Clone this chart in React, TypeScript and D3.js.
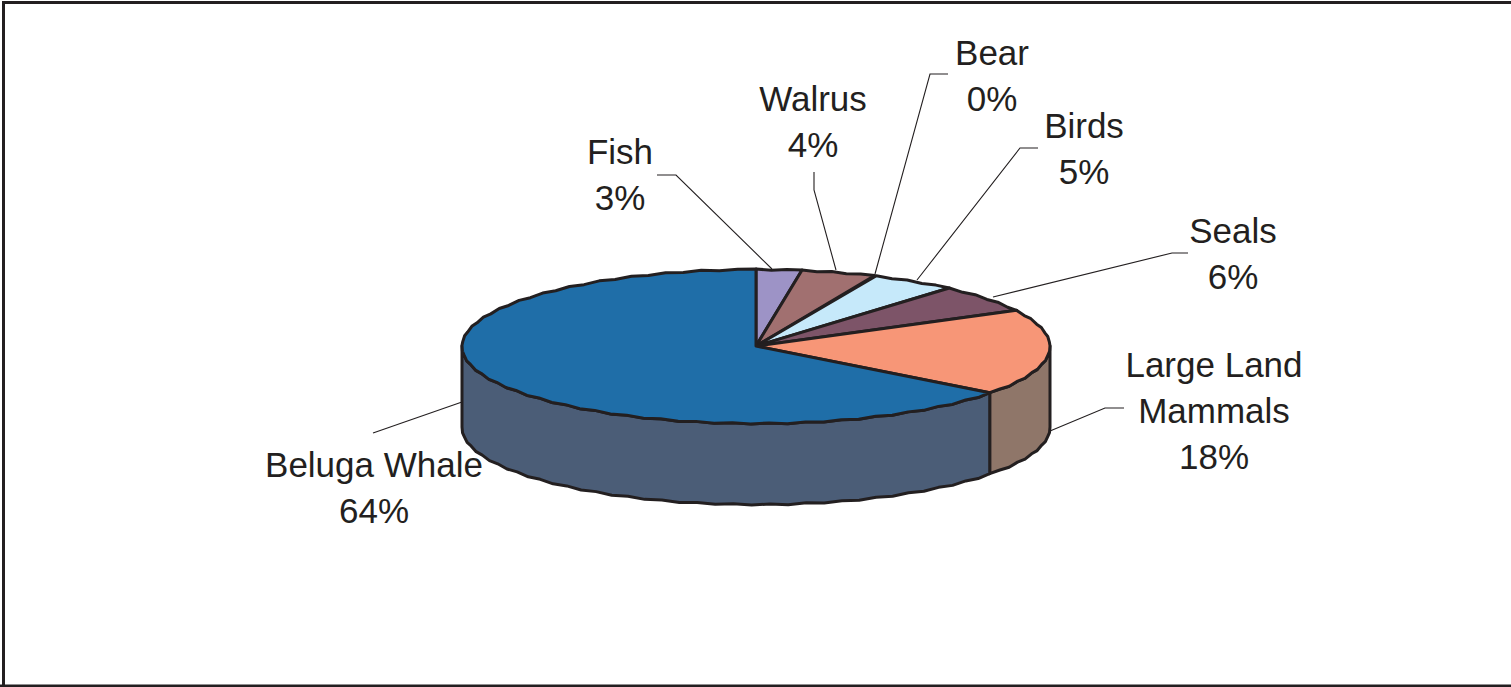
import React from "react";
import * as d3 from "d3";

// Data (true angles give the printed rounded percentages)
const categories = ["Fish", "Walrus", "Bear", "Birds", "Seals", "Large Land Mammals", "Beluga Whale"];
const values = [2.5, 4.1, 0.1, 4.7, 5.9, 18.0, 64.49];
const percentLabels = ["3%", "4%", "0%", "5%", "6%", "18%", "64%"];
const labelLines = [["Fish"], ["Walrus"], ["Bear"], ["Birds"], ["Seals"], ["Large Land", "Mammals"], ["Beluga Whale"]];

// Styling
const topColors = ["#9d93c6", "#a17070", "#a8a8c8", "#c6e9fa", "#7d5468", "#f79677", "#1f6ea8"];
const sideColors = ["#6f6a8c", "#755252", "#77778f", "#8fa8b5", "#5a3d4b", "#8f7669", "#4b5d77"];
const INK = "#231f20";

// Layout
const W = 1511, H = 687;
const CX = 756, CY = 346, RX = 294, RY = 77, DEPTH = 81;
const STEP = (3.6 * Math.PI) / 180;
const labelX = [620, 813, 992, 1084, 1233, 1214, 374];
const labelY = [164, 111, 65, 138, 243, 377, 477];
const LINE_H = 46;
const leaders = [
  [[772, 269], [676, 175], [657, 175]],
  [[836, 270], [814, 190], [814, 172]],
  [[875, 274], [930, 74], [948, 74]],
  [[917, 280], [1020, 148], [1038, 148]],
  [[993, 297], [1172, 253], [1188, 253]],
  [[1050, 431], [1105, 408], [1124, 408]],
  [[462, 402], [373, 433]],
];

const px = d3.scaleLinear().domain([-1, 1]).range([CX - RX, CX + RX]);
const py = d3.scaleLinear().domain([-1, 1]).range([CY - RY, CY + RY]);
const pt = (a: number, dz = 0): [number, number] => [px(Math.sin(a)), py(-Math.cos(a)) + dz];

// Coarsely sampled rim, like the polygonal outline of the source chart
const rim = (a0: number, a1: number, dz = 0): [number, number][] => {
  const n = Math.max(1, Math.ceil((a1 - a0) / STEP));
  return d3.range(n + 1).map((i) => {
    const a = a0 + ((a1 - a0) * i) / n;
    const wob = i === 0 || i === n || i % 2 === 0 ? 0 : 1.1;
    const p = pt(a, dz);
    return [p[0], p[1] + wob] as [number, number];
  });
};

const line = d3.line<[number, number]>();
const arcs = d3.pie<number>().sort(null).value((d) => d)(values);

export default function App() {
  const front0 = Math.PI / 2, front1 = (3 * Math.PI) / 2;
  return (
    <svg
      width={W}
      height={H}
      viewBox={`0 0 ${W} ${H}`}
      style={{ position: "absolute", left: 0, top: 0, background: "#fff" }}
    >
      <path d={`M3.5,${H}V2.5H${W}`} fill="none" stroke={INK} strokeWidth={3} />
      <path d={`M0,${H - 1}H${W}`} fill="none" stroke={INK} strokeWidth={3} />

      {leaders.map((l, i) => (
        <path key={i} d={line(l as [number, number][]) ?? ""} fill="none" stroke={INK} strokeWidth={1.1} />
      ))}

      {arcs.map((a, i) => {
        const s = Math.max(a.startAngle, front0);
        const e = Math.min(a.endAngle, front1);
        if (e <= s) return null;
        const poly = [...rim(s, e), ...rim(s, e, DEPTH).reverse()];
        return (
          <path
            key={i}
            d={(line(poly) ?? "") + "Z"}
            fill={sideColors[i]}
            stroke={INK}
            strokeWidth={3}
            strokeLinejoin="round"
          />
        );
      })}

      {arcs.map((a, i) => {
        if (categories[i] === "Bear") return null;
        const poly = [[CX, CY] as [number, number], ...rim(a.startAngle, a.endAngle)];
        return (
          <path
            key={i}
            d={(line(poly) ?? "") + "Z"}
            fill={topColors[i]}
            stroke={INK}
            strokeWidth={3}
            strokeLinejoin="round"
          />
        );
      })}

      <g fontFamily="'Liberation Sans', Arial, sans-serif" fontSize={35} fill={INK} textAnchor="middle">
        {categories.map((c, i) => {
          const rows = [...labelLines[i], percentLabels[i]];
          return (
            <text key={c}>
              {rows.map((r, j) => (
                <tspan key={j} x={labelX[i]} y={labelY[i] + j * LINE_H}>
                  {r}
                </tspan>
              ))}
            </text>
          );
        })}
      </g>
    </svg>
  );
}
